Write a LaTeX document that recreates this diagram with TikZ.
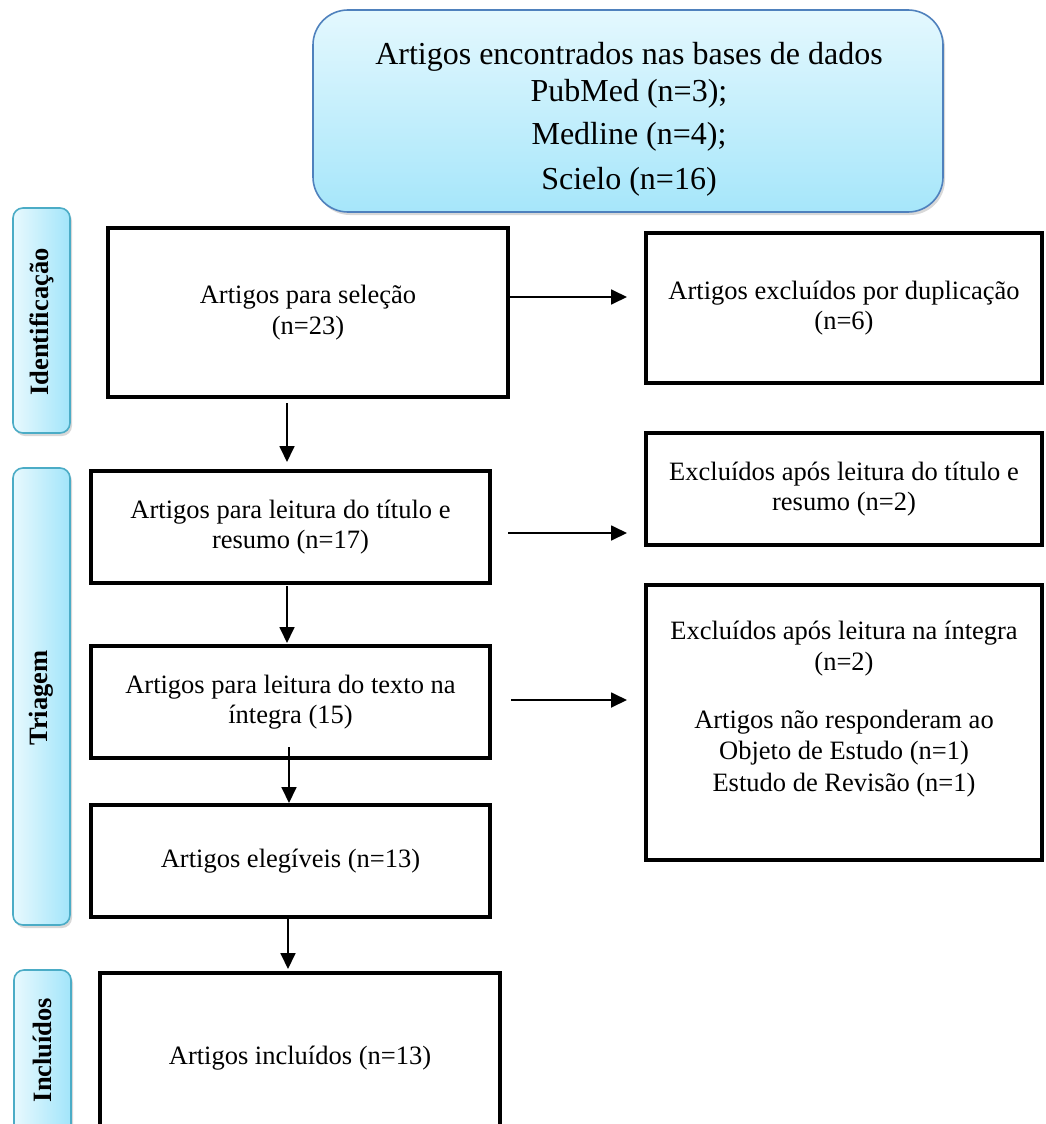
\documentclass[tikz,border=0pt]{standalone}
\usepackage{fontspec}
\setmainfont{Liberation Serif}
\usetikzlibrary{arrows.meta,shadows}
\definecolor{topborder}{RGB}{79,129,189}
\definecolor{toplight}{RGB}{228,248,254}
\definecolor{topdark}{RGB}{166,230,250}
\definecolor{sideborder}{RGB}{75,172,198}
\definecolor{sidelight}{RGB}{232,249,254}
\definecolor{sidedark}{RGB}{162,229,250}
\begin{document}
\begin{tikzpicture}[x=1pt,y=-1pt,
  every node/.style={inner sep=0pt,outer sep=0pt},
  box/.style={draw=black,line width=4.8pt,fill=white,align=center,rectangle,
    font=\fontsize{26.5}{30.5}\selectfont},
  softshadow/.style={drop shadow={shadow xshift=2pt,shadow yshift=-3pt,opacity=0.25,fill=black!60}},
  topbox/.style={draw=topborder,line width=1.6pt,rounded corners=35pt,
    top color=toplight,bottom color=topdark,softshadow},
  toptext/.style={align=center,font=\fontsize{32}{37}\selectfont},
  sidebox/.style={draw=sideborder,line width=1.6pt,rounded corners=10pt,
    left color=sidelight,right color=sidedark,softshadow},
  sidetext/.style={font=\fontsize{26.5}{30}\selectfont\bfseries,rotate=90},
  arr/.style={line width=1.8pt,-{Triangle[length=16pt,width=15pt]}}
]
\useasboundingbox (0,0) rectangle (1045,1124);
\clip (0,0) rectangle (1045,1124);
\fill[white] (0,0) rectangle (1045,1124);

% top source box
\node[topbox,minimum width=630pt,minimum height=202pt] (src) at (628,111) {};
\node[toptext] (srcT) at (629,119)
  {Artigos encontrados nas bases de dados\\[0pt]PubMed (n=3);\\[6pt]Medline (n=4);\\[8pt]Scielo (n=16)};

% side labels
\node[sidebox,minimum width=57pt,minimum height=225pt] (idb) at (41.5,320.5) {};
\node[sidetext] (idt) at (41.5,322) {Identificação};
\node[sidebox,minimum width=57pt,minimum height=457pt] (trb) at (41.5,696.5) {};
\node[sidetext] (trt) at (41.5,698) {Triagem};
\node[sidebox,minimum width=57pt,minimum height=200pt] (inb) at (42.5,1070) {};
\node[sidetext] (int) at (42.5,1050) {Incluídos};

% main boxes
\node[box,minimum width=400pt,minimum height=169pt] (sel) at (308,312.5)
  {Artigos para seleção\\(n=23)};
\node[box,minimum width=396pt,minimum height=150pt] (dup) at (844,308)
  {Artigos excluídos por duplicação\\(n=6)};
\node[box,minimum width=399pt,minimum height=112pt] (tit) at (290.5,527)
  {Artigos para leitura do título e\\resumo (n=17)};
\node[box,minimum width=396pt,minimum height=112pt] (extit) at (844,489)
  {Excluídos após leitura do título e\\resumo (n=2)};
\node[box,minimum width=399pt,minimum height=112pt] (txt) at (290.5,702)
  {Artigos para leitura do texto na\\íntegra (15)};
\node[box,minimum width=396pt,minimum height=275pt] (exint) at (844,722.5) {};
\node[align=center,font=\fontsize{26.5}{31.5}\selectfont] (exintT) at (844,709)
  {Excluídos após leitura na íntegra\\(n=2)\\[26pt]Artigos não responderam ao\\Objeto de Estudo (n=1)\\Estudo de Revisão (n=1)};
\node[box,minimum width=399pt,minimum height=112pt] (eleg) at (290.5,861)
  {Artigos elegíveis (n=13)};
\node[box,minimum width=400pt,minimum height=170pt] (inc) at (300,1058)
  {Artigos incluídos (n=13)};

% connectors
\draw[arr] ([yshift=15.5pt]sel.east) -- ([xshift=-19pt,yshift=11pt]dup.west);
\draw[arr] ([xshift=-21pt,yshift=-6pt]sel.south) -- ([xshift=-3.5pt,yshift=9pt]tit.north);
\draw[arr] ([xshift=18pt,yshift=-6pt]tit.east) -- ([xshift=-19pt,yshift=-44pt]extit.west);
\draw[arr] ([xshift=-3.5pt,yshift=-3pt]tit.south) -- ([xshift=-3.5pt,yshift=3pt]txt.north);
\draw[arr] ([xshift=21pt,yshift=2pt]txt.east) -- ([xshift=-19pt,yshift=22.5pt]exint.west);
\draw[arr] ([xshift=-1.5pt,yshift=11pt]txt.south) -- ([xshift=-1.5pt,yshift=2pt]eleg.north);
\draw[arr] ([xshift=-2.5pt]eleg.south) -- ([xshift=-12pt,yshift=4pt]inc.north);
\end{tikzpicture}
\end{document}
